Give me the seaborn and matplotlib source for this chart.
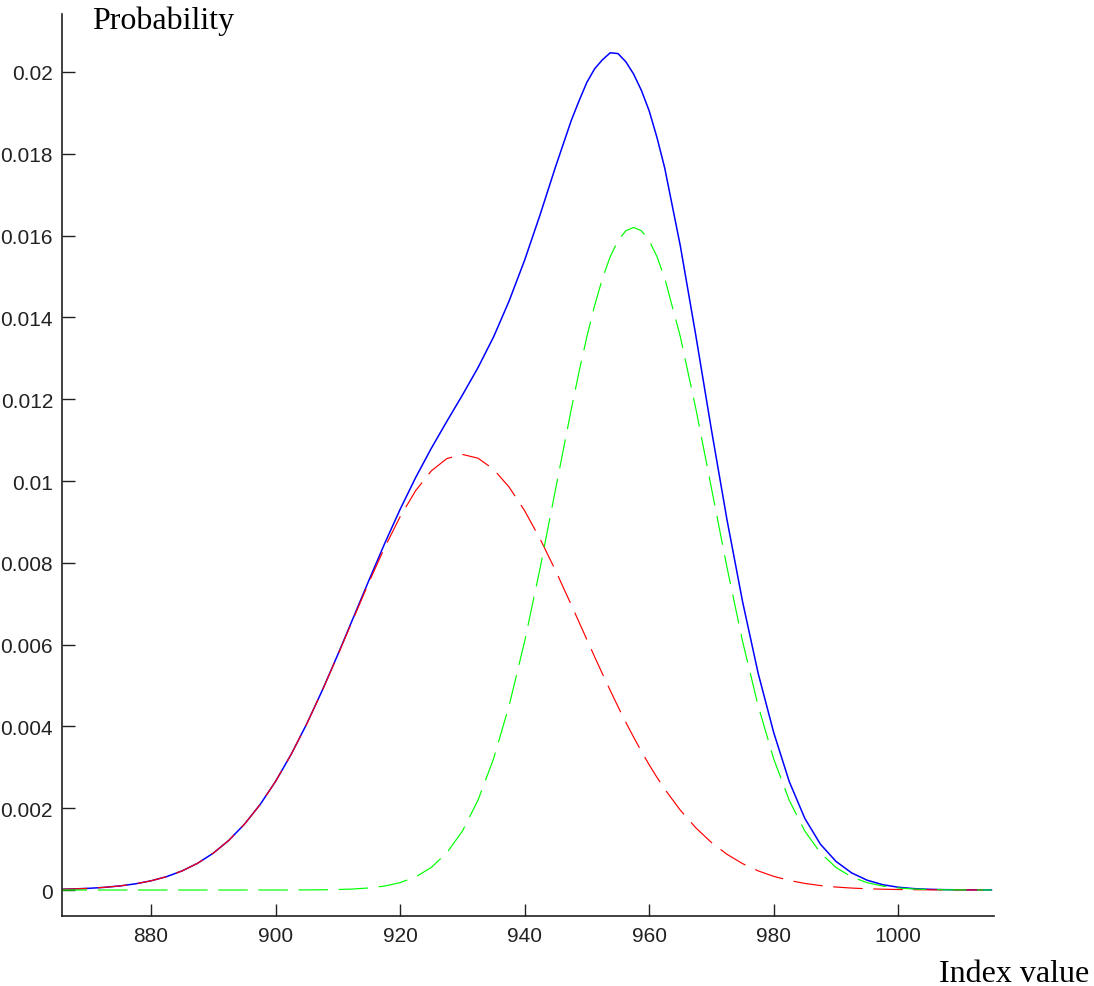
import numpy as np
import pandas as pd
import matplotlib
matplotlib.use("Agg")
import matplotlib.pyplot as plt
import seaborn as sns

# Index values (x) at which the curves were read
index_values = [865, 867.5, 870, 872.5, 875, 877.5, 880, 882.5, 885, 887.5,
                890, 892.5, 895, 897.5, 900, 902.5, 905, 907.5, 910, 912.5,
                915, 917.5, 920, 922.5, 925, 927.5, 930, 932.5, 935, 937.5,
                940, 942.5, 945, 947.5, 948.75, 950, 951.25, 952.5, 953.75, 955,
                956.25, 957.5, 958.75, 960, 961.25, 962.5,
                965, 967.5, 970, 972.5, 975, 977.5, 980, 982.5, 985, 987.5,
                990, 992.5, 995, 997.5, 1000, 1002.5, 1005, 1007.5, 1010, 1012.5, 1015]

# Total mixture density (blue, solid)
total_prob = [0.0000157, 0.0000257, 0.0000412, 0.0000648, 0.0001, 0.000151, 0.000225, 0.000327, 0.000468, 0.000656,
              0.000902, 0.001216, 0.001609, 0.002087, 0.002656, 0.003317, 0.004062, 0.004882, 0.005758, 0.006665,
              0.007576, 0.008466, 0.009307, 0.010086, 0.010797, 0.011457, 0.01210, 0.01277, 0.01352, 0.01440,
              0.01540, 0.01652, 0.01770, 0.01882, 0.01930, 0.01975, 0.02008, 0.02030, 0.02047, 0.02045,
              0.02025, 0.01995, 0.01955, 0.01905, 0.01840, 0.01765,
              0.01575, 0.01355, 0.01125, 0.00905, 0.00705, 0.00530, 0.00385, 0.00265, 0.00175, 0.00112,
              0.00070, 0.00042, 0.00024, 0.00013, 0.000068, 0.000034, 0.000017, 0.0000085, 0.000004, 0.000002, 0.000001]

# First component (red, dashed)
comp1_prob = [0.0000157, 0.0000257, 0.0000412, 0.0000648, 0.0001, 0.000151, 0.000225, 0.000327, 0.000468, 0.000656,
              0.000902, 0.001216, 0.001609, 0.002087, 0.002656, 0.003316, 0.00406, 0.004877, 0.005746, 0.00664,
              0.007526, 0.008369, 0.009127, 0.009765, 0.010246, 0.010548, 0.01065, 0.010558, 0.010288, 0.009852,
              0.009273, 0.008578, 0.007799, 0.006968, 0.006544, 0.00612, 0.005698, 0.005283, 0.004877, 0.004482,
              0.004101, 0.003737, 0.00339, 0.003062, 0.002754, 0.002466,
              0.001952, 0.001519, 0.001161, 0.000873, 0.000645, 0.000468, 0.000334, 0.000234, 0.000161, 0.000109,
              0.0000727, 0.0000476, 0.0000307, 0.0000194, 0.000012, 0.0000073, 0.0000044, 0.0000026, 0.0000015, 0.0000009, 0.0000005]

# Second component (green, dashed)
comp2_prob = [0, 0, 0, 0, 0, 0, 0, 0, 0, 0,
              0, 0, 0, 0, 0.0000004, 0.000001, 0.0000024, 0.0000054, 0.0000119, 0.0000248,
              0.0000501, 0.0000968, 0.00018, 0.000321, 0.000551, 0.000909, 0.00144, 0.002192, 0.003206, 0.004504,
              0.00608, 0.007886, 0.009826, 0.011763, 0.01268, 0.013532, 0.014297, 0.014955, 0.015487, 0.01588,
              0.016119, 0.0162, 0.016119, 0.01588, 0.015487, 0.014955,
              0.013532, 0.011763, 0.009826, 0.007886, 0.00608, 0.004504, 0.003206, 0.002192, 0.00144, 0.000909,
              0.000551, 0.000321, 0.00018, 0.0000968, 0.0000501, 0.0000248, 0.0000119, 0.0000054, 0.0000024, 0.000001, 0.0000004]

x_ticks = [880, 900, 920, 940, 960, 980, 1000]
y_ticks = [0, 0.002, 0.004, 0.006, 0.008, 0.01, 0.012, 0.014, 0.016, 0.018, 0.02]
y_tick_labels = ["0", "0.002", "0.004", "0.006", "0.008", "0.01", "0.012", "0.014", "0.016", "0.018", "0.02"]

df = pd.DataFrame({"x": index_values, "total": total_prob,
                   "c1": comp1_prob, "c2": comp2_prob})

sns.set_style("ticks")
plt.rcParams["font.family"] = ["Liberation Sans", "DejaVu Sans"]

fig = plt.figure(figsize=(10.94, 9.87), dpi=100)
ax = fig.add_axes([0.0567, 0.0709, 0.852, 0.9139])

sns.lineplot(data=df, x="x", y="total", ax=ax, color=(0, 0, 1), lw=1.1)
sns.lineplot(data=df, x="x", y="c1", ax=ax, color=(1, 0, 0), lw=0.85)
ax.lines[-1].set_dashes((25, 9))
sns.lineplot(data=df, x="x", y="c2", ax=ax, color=(0, 1, 0), lw=0.85)
ax.lines[-1].set_dashes((25, 9))

ax.set_xlim(865.7, 1015.4)
ax.set_ylim(-0.000636, 0.021418)
ax.set_xticks(x_ticks)
ax.set_xticklabels([str(t) for t in x_ticks])
ax.set_yticks(y_ticks)
ax.set_yticklabels(y_tick_labels)
ax.tick_params(direction="in", length=9, width=1, colors="#202020",
               labelsize=15, labelcolor="#222222", bottom=True, left=True)
ax.tick_params(axis="y", pad=6.5)
ax.tick_params(axis="x", pad=7)
ax.set_xlabel("")
ax.set_ylabel("")
for side in ["top", "right"]:
    ax.spines[side].set_visible(False)
for side in ["left", "bottom"]:
    ax.spines[side].set_color("#202020")
    ax.spines[side].set_linewidth(1.2)

fig.text(92 / 1094, 1 - 29 / 987, "Probability", family=["Liberation Serif", "DejaVu Serif"],
         fontsize=23, ha="left", va="baseline", color="black")
fig.text(1089 / 1094, 1 - 982 / 987, "Index value", family=["Liberation Serif", "DejaVu Serif"],
         fontsize=23, ha="right", va="baseline", color="black")

fig.savefig("out.png", dpi=100, facecolor="white")
